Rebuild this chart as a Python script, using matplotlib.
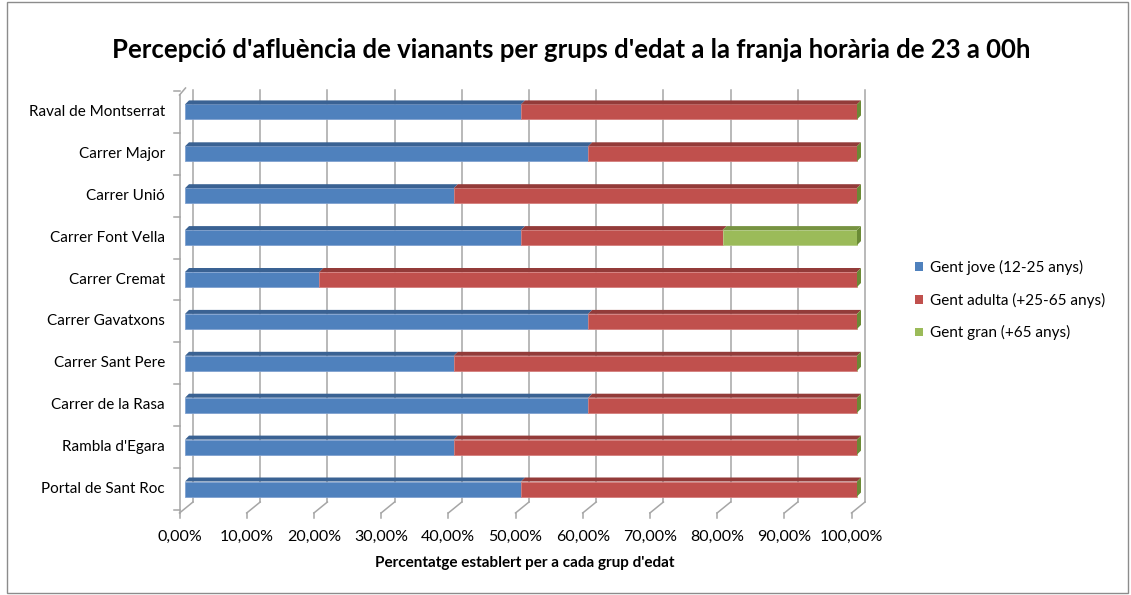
import numpy as np
import matplotlib
matplotlib.use("Agg")
import matplotlib.pyplot as plt
from matplotlib.patches import Polygon, Patch, Rectangle

plt.rcParams['font.family'] = ['Lato', 'DejaVu Sans']

# bottom to top, as the chart stacks them
carrers = ["Portal de Sant Roc", "Rambla d'Egara", "Carrer de la Rasa", "Carrer Sant Pere",
           "Carrer Gavatxons", "Carrer Cremat", "Carrer Font Vella", "Carrer Unió",
           "Carrer Major", "Raval de Montserrat"]
jove = [50, 40, 60, 40, 60, 20, 50, 40, 60, 50]
adulta = [50, 60, 40, 60, 40, 80, 30, 60, 40, 50]
gran = [0, 0, 0, 0, 0, 0, 20, 0, 0, 0]
series_names = ["Gent jove (12-25 anys)", "Gent adulta (+25-65 anys)", "Gent gran (+65 anys)"]
xticks = np.arange(0, 101, 10)
xtick_labels = ["%d,00%%" % v for v in xticks]

front = ["#4F81BD", "#C0504D", "#9BBB59"]
topc = ["#3A6293", "#933B39", "#779341"]
side_col = "#6A8A35"
edge = ["#7FA0CF", "#D47E7C", "#B5CD86"]

W, H = 1131, 595
fig = plt.figure(figsize=(W / 100, H / 100), dpi=100)
# pixel layout helpers
px_per_x = 6.72   # px per 1 %
px_per_y = 41.9   # px per row
ax_l, ax_r, ax_t, ax_b = 150, 880, 80, 530
x0_px, y0_px = 185, 489
ax = fig.add_axes([ax_l / W, 1 - ax_b / H, (ax_r - ax_l) / W, (ax_b - ax_t) / H])
ax.set_xlim((ax_l - x0_px) / px_per_x, (ax_r - x0_px) / px_per_x)
ax.set_ylim((y0_px - ax_b) / px_per_y, (y0_px - ax_t) / px_per_y)
ax.axis('off')

def dx(p):
    return p / px_per_x

def dy(p):
    return p / px_per_y

grid_c = "#A6A6A6"
back_off = dx(8)
front_off = dx(-5.5)
y_top = dy(y0_px - 90)
y_wall = dy(y0_px - 502)
y_floor = dy(y0_px - 513)
for v, lab in zip(xticks, xtick_labels):
    ax.plot([v + back_off, v + back_off], [y_wall, y_top], color=grid_c, lw=1.1, zorder=1)
    ax.plot([v + back_off, v + front_off], [y_wall, y_floor], color=grid_c, lw=1.1, zorder=1)
    ax.plot([v + front_off, v + front_off], [y_floor, y_floor - dy(5)], color=grid_c, lw=1.1, zorder=1)
    ax.text(v + front_off, dy(y0_px - 537), lab, ha='center', va='center',
            fontsize=11.5, color='black')

# left (category) axis
ax.plot([front_off, front_off], [y_floor, dy(y0_px - 95)], color=grid_c, lw=1.1, zorder=1)
ax.plot([front_off, front_off + dx(6)], [dy(y0_px - 95), dy(y0_px - 88)], color=grid_c, lw=1.1, zorder=1)
for i in range(len(carrers) + 1):
    yb = i - 0.5
    ax.plot([front_off, front_off - dx(6)], [yb, yb], color=grid_c, lw=1.1, zorder=1)

h = dy(15)
tdx, tdy = dx(4), dy(4)
ys = np.arange(len(carrers))
data = [jove, adulta, gran]
left = np.zeros(len(carrers))
for k, vals in enumerate(data):
    vals = np.array(vals, dtype=float)
    ax.barh(ys, vals, left=left, height=h, color=front[k], edgecolor=edge[k],
            linewidth=0.6, zorder=3)
    for y, l, w in zip(ys, left, vals):
        if w <= 0:
            continue
        t = y + h / 2
        ax.add_patch(Polygon([(l, t), (l + w, t), (l + w + tdx, t + tdy), (l + tdx, t + tdy)],
                             closed=True, facecolor=topc[k], edgecolor='none', zorder=3))
    left = left + vals

for y, r in zip(ys, left):
    b, t = y - h / 2, y + h / 2
    ax.add_patch(Polygon([(r, b), (r, t), (r + tdx, t + tdy), (r + tdx, b + tdy)],
                         closed=True, facecolor=side_col, edgecolor='none', zorder=3))

for y, name in zip(ys, carrers):
    ax.text(dx(165 - x0_px), y, name, ha='right', va='center', fontsize=11, color='black')

handles = [Patch(facecolor=c, edgecolor='none') for c in front]
fig.legend(handles, series_names, loc='upper left', bbox_to_anchor=(909 / W, 1 - 254 / H),
           frameon=False, fontsize=11, handlelength=0.5, handleheight=0.5,
           handletextpad=0.45, labelspacing=1.15, borderaxespad=0)

fig.text(571 / W, 1 - 50 / H,
         "Percepció d'afluència de vianants per grups d'edat a la franja horària de 23 a 00h",
         ha='center', va='center', fontsize=18.5, fontweight='bold')
fig.text(525 / W, 1 - 563 / H, "Percentatge establert per a cada grup d'edat",
         ha='center', va='center', fontsize=11, fontweight='bold')

fig.patches.append(Rectangle((7 / W, 2 / H), 1121 / W, 591 / H, transform=fig.transFigure,
                             fill=False, edgecolor="#8C8C8C", lw=1))

fig.savefig("out.png", dpi=100)
